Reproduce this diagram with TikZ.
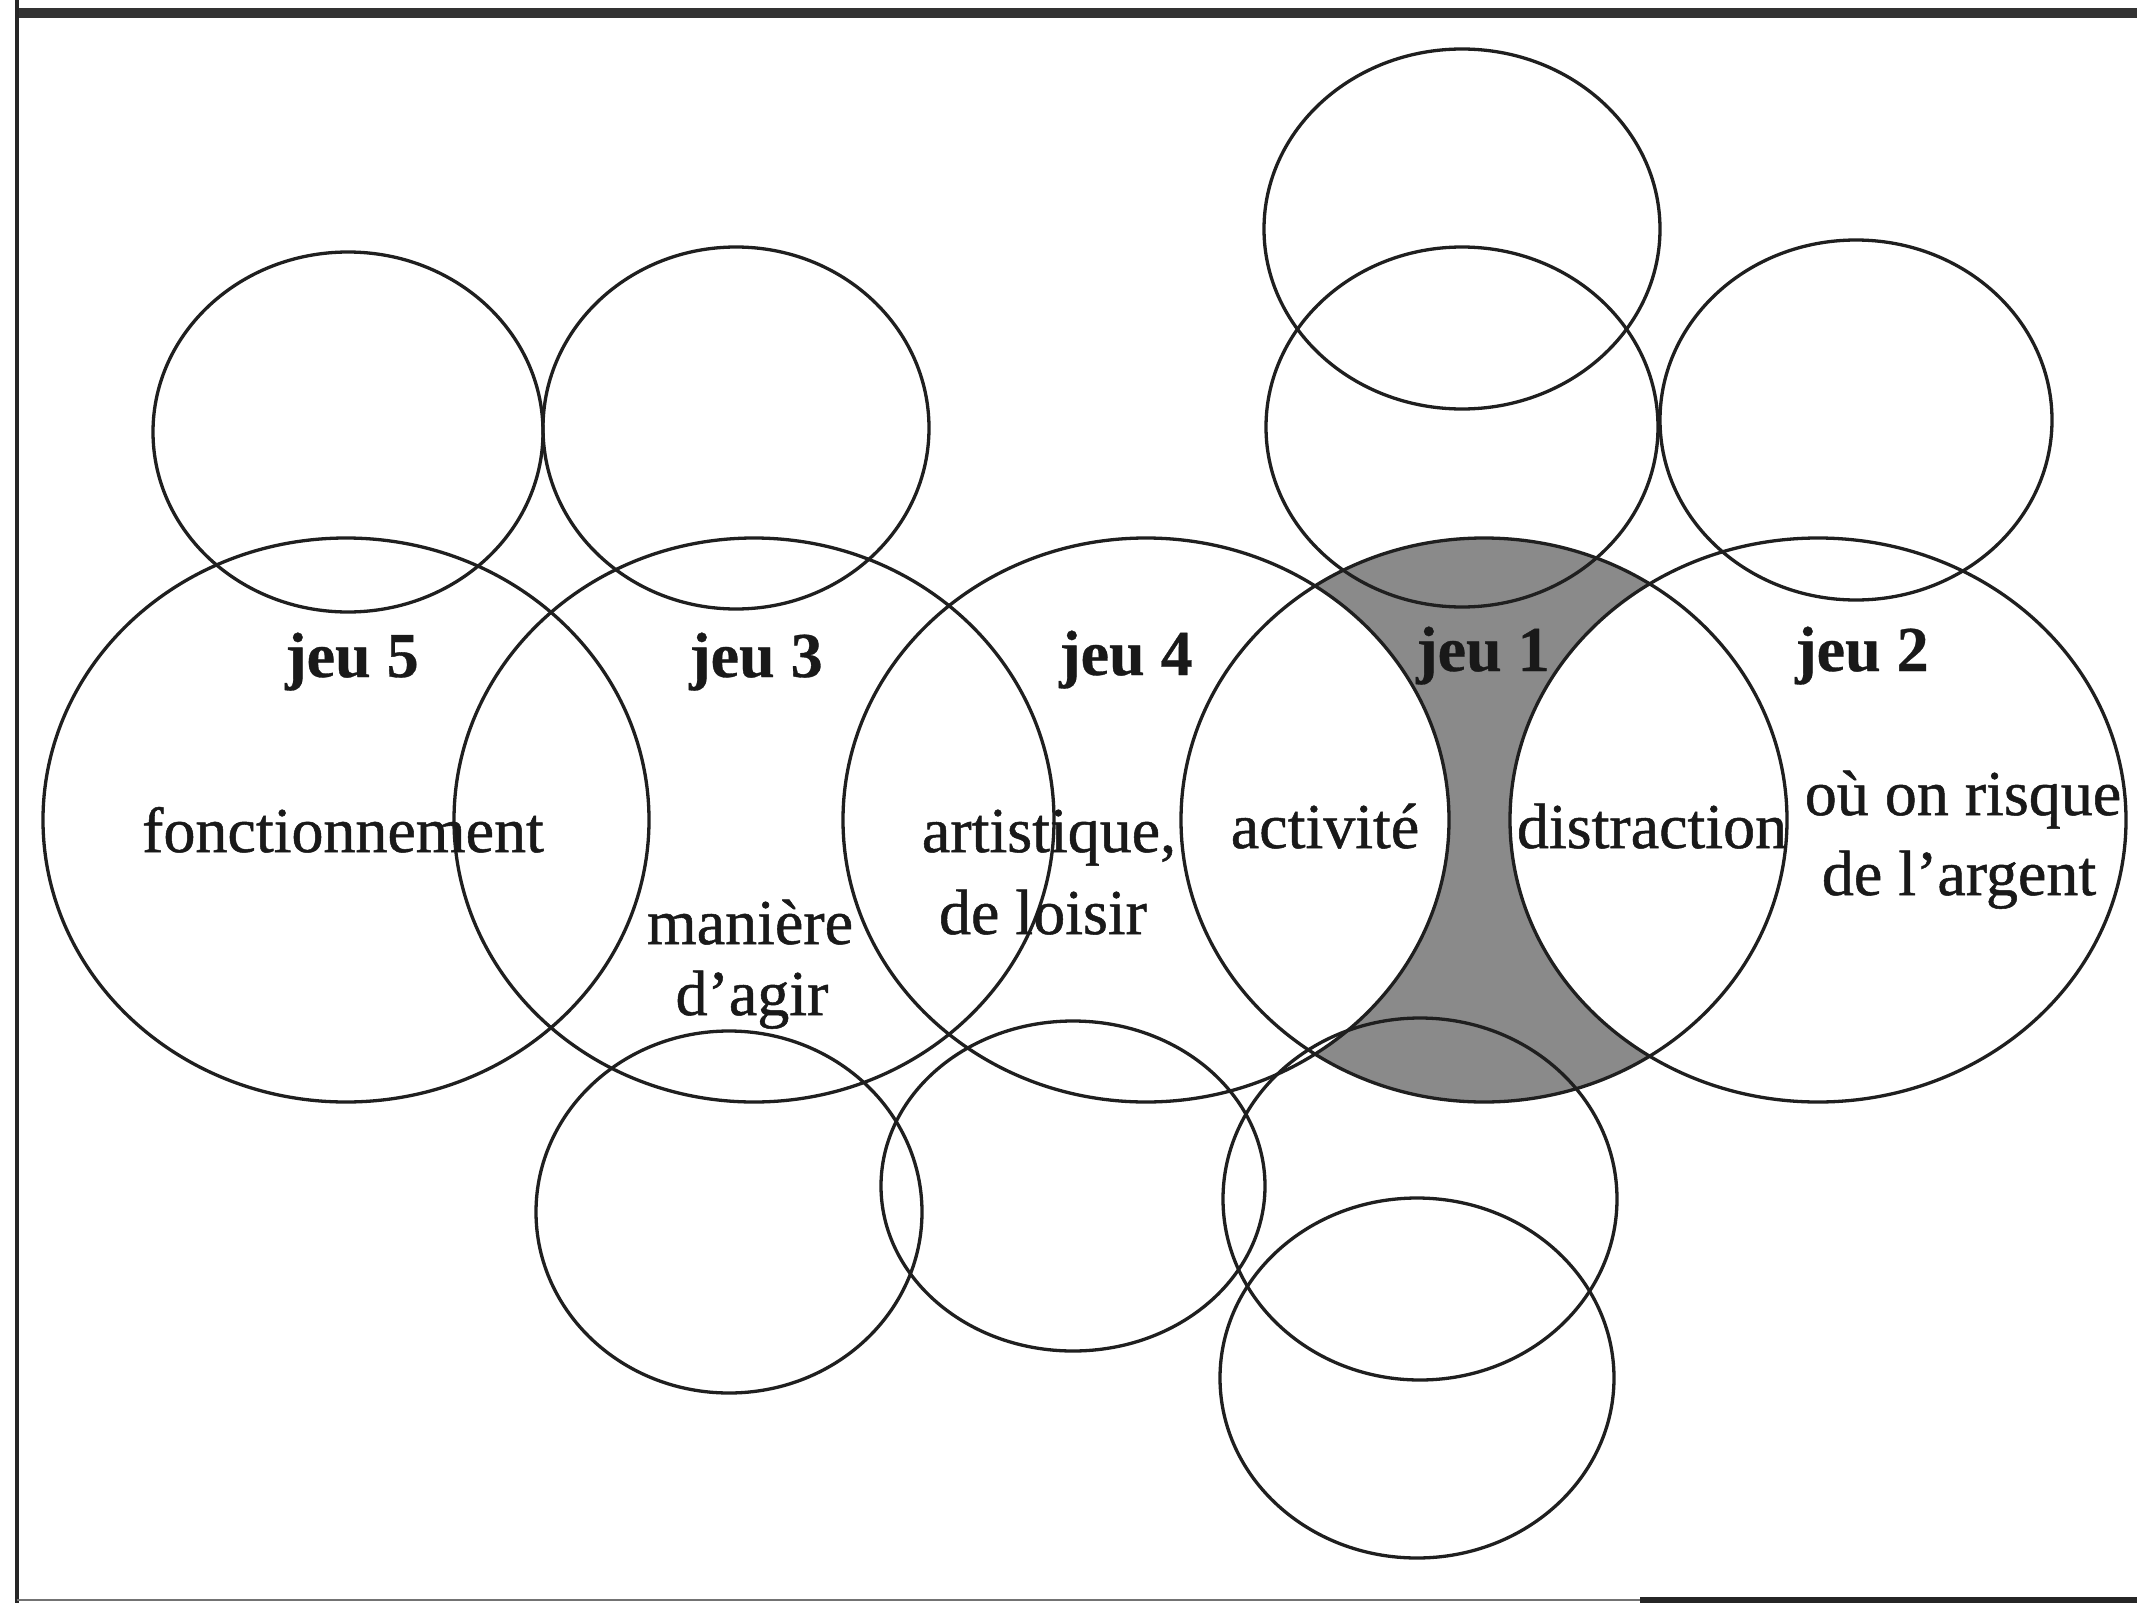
\documentclass[tikz,border=0pt]{standalone}
\usepackage{fontspec}
\setmainfont{Liberation Serif}
\newfontfamily\lblfont{Liberation Serif}[FakeBold=0.8]
\newfontfamily\ttlfont{Liberation Serif Bold}[FakeBold=0.5]
\begin{document}
\begin{tikzpicture}[x=1pt,y=-1pt,
  ring/.style={line width=3.3pt, draw=black!88},
  lbl/.style={font=\lblfont\fontsize{64}{70}\selectfont, inner sep=0pt, anchor=base, text=black!90},
  ttl/.style={font=\ttlfont\fontsize{64}{70}\selectfont, inner sep=0pt, anchor=base, text=black!90}]
\useasboundingbox (0,0) rectangle (2137,1603);
\fill[white] (0,0) rectangle (2137,1603);
% shaded part of jeu 1
\fill[black!46] (1484,820) ellipse [x radius=303, y radius=282];
\fill[white] (1146,820) ellipse [x radius=303, y radius=282];
\fill[white] (1818,820) ellipse [x radius=308, y radius=282];
% frame
\draw[line width=10pt, black!80] (16,13) -- (2137,13);
\draw[line width=4pt, black!85] (17,0) -- (17,1603);
\draw[line width=2.5pt, black!55] (17,1600) -- (1640,1600);
\draw[line width=6pt, black!85] (1640,1600) -- (2137,1600);
% large ellipses
\draw[ring] (346,820) ellipse [x radius=303, y radius=282];
\draw[ring] (754,820) ellipse [x radius=300, y radius=282];
\draw[ring] (1146,820) ellipse [x radius=303, y radius=282];
\draw[ring] (1484,820) ellipse [x radius=303, y radius=282];
\draw[ring] (1818,820) ellipse [x radius=308, y radius=282];
% small ellipses, top
\draw[ring] (348,432) ellipse [x radius=195, y radius=180];
\draw[ring] (736,428) ellipse [x radius=193, y radius=181];
\draw[ring] (1462,427) ellipse [x radius=196, y radius=180];
\draw[ring] (1462,229) ellipse [x radius=198, y radius=180];
\draw[ring] (1856,420) ellipse [x radius=196, y radius=180];
% small ellipses, bottom
\draw[ring] (729,1212) ellipse [x radius=193, y radius=181];
\draw[ring] (1073,1186) ellipse [x radius=192, y radius=165];
\draw[ring] (1420,1199) ellipse [x radius=197, y radius=181];
\draw[ring] (1417,1378) ellipse [x radius=197, y radius=180];
% titles
\node[ttl] (j5) at (352,677) {jeu 5};
\node[ttl] (j3) at (756,677) {jeu 3};
\node[ttl] (j4) at (1126,675) {jeu 4};
\node[ttl] (j1) at (1483,671) {jeu 1};
\node[ttl] (j2) at (1862,671) {jeu 2};
% labels
\node[lbl] (fon) at (343,852) {fonctionnement};
\node[lbl] (man) at (750,944) {manière};
\node[lbl] (agi) at (752,1015) {d’agir};
\node[lbl] (art) at (1049,852) {artistique,};
\node[lbl] (loi) at (1043,934) {de loisir};
\node[lbl] (act) at (1325,848) {activité};
\node[lbl] (dis) at (1652,848) {distraction};
\node[lbl] (ris) at (1963,815) {où on risque};
\node[lbl] (arg) at (1959,895) {de l’argent};
\end{tikzpicture}
\end{document}
